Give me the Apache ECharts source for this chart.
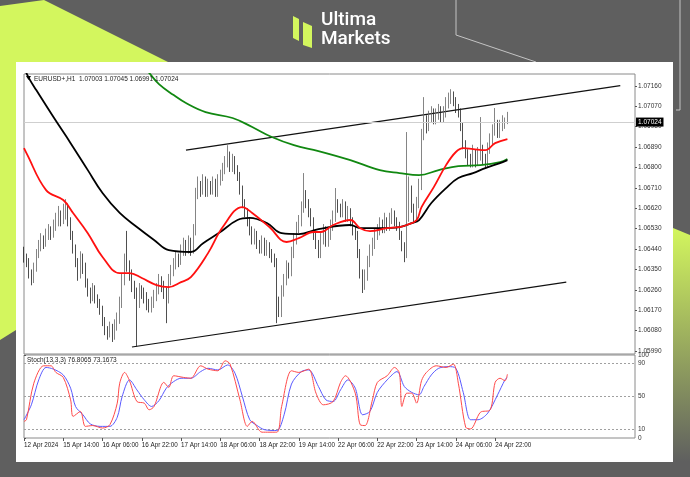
<!DOCTYPE html>
<html><head><meta charset="utf-8">
<script src="https://cdn.jsdelivr.net/npm/echarts@6/dist/echarts.min.js"></script>
<style>html,body{margin:0;padding:0;background:#5f5f5f}#c{width:690px;height:477px}</style>
</head><body><div id="c"></div>
<script>
// ---------- data ----------
const xLabels = ['12 Apr 2024','15 Apr 14:00','16 Apr 06:00','16 Apr 22:00','17 Apr 14:00','18 Apr 06:00','18 Apr 22:00','19 Apr 14:00','22 Apr 06:00','22 Apr 22:00','23 Apr 14:00','24 Apr 06:00','24 Apr 22:00'];
const labelEvery = 16;
const totalSlots = 250;
const priceTicks = [1.05990,1.06080,1.06170,1.06260,1.06350,1.06440,1.06530,1.06620,1.06710,1.06800,1.06890,1.06980,1.07070,1.07160];
const priceMin = 1.05977, priceMax = 1.07212;
const stochTicks = [0,10,50,90,100];
const stochLevels = [90,50,10];
const lastPrice = 1.07024;
const header = 'EURUSD+,H1  1.07003 1.07045 1.06991 1.07024';
const stochHeader = 'Stoch(13,3,3) 76.8065 73.1673';

// H1 bars: [open, high, low, close]
const ohlc = [
[1.06420,1.06450,1.06380,1.06400],[1.06400,1.06420,1.06360,1.06380],[1.06380,1.06400,1.06310,1.06330],[1.06330,1.06350,1.06280,1.06300],
[1.06300,1.06380,1.06290,1.06360],[1.06360,1.06440,1.06340,1.06420],[1.06420,1.06480,1.06400,1.06450],[1.06450,1.06510,1.06430,1.06480],
[1.06480,1.06500,1.06440,1.06470],[1.06470,1.06530,1.06450,1.06500],[1.06500,1.06550,1.06480,1.06520],[1.06520,1.06540,1.06480,1.06510],
[1.06510,1.06570,1.06490,1.06540],[1.06540,1.06600,1.06520,1.06560],[1.06560,1.06630,1.06540,1.06590],[1.06590,1.06610,1.06540,1.06570],
[1.06570,1.06640,1.06550,1.06600],[1.06600,1.06660,1.06570,1.06620],[1.06620,1.06640,1.06540,1.06560],[1.06560,1.06580,1.06480,1.06500],
[1.06500,1.06520,1.06420,1.06440],[1.06440,1.06460,1.06360,1.06380],[1.06380,1.06400,1.06300,1.06330],[1.06330,1.06430,1.06310,1.06400],
[1.06400,1.06420,1.06330,1.06360],[1.06360,1.06380,1.06270,1.06290],[1.06290,1.06310,1.06230,1.06250],[1.06250,1.06270,1.06200,1.06230],
[1.06230,1.06290,1.06210,1.06260],[1.06260,1.06280,1.06200,1.06220],[1.06220,1.06240,1.06180,1.06200],[1.06200,1.06220,1.06150,1.06170],
[1.06170,1.06190,1.06100,1.06120],[1.06120,1.06140,1.06060,1.06080],[1.06080,1.06100,1.06040,1.06060],[1.06060,1.06120,1.06050,1.06090],
[1.06090,1.06110,1.06030,1.06050],[1.06050,1.06130,1.06040,1.06100],[1.06100,1.06160,1.06080,1.06130],[1.06130,1.06230,1.06110,1.06200],
[1.06200,1.06330,1.06180,1.06300],[1.06300,1.06420,1.06280,1.06380],[1.06380,1.06520,1.06340,1.06360],[1.06360,1.06390,1.06300,1.06330],
[1.06330,1.06350,1.06250,1.06280],[1.06280,1.06300,1.06220,1.06250],[1.06250,1.06270,1.06008,1.06200],[1.06200,1.06290,1.06180,1.06260],
[1.06260,1.06280,1.06220,1.06250],[1.06250,1.06270,1.06200,1.06230],[1.06230,1.06250,1.06170,1.06200],[1.06200,1.06220,1.06160,1.06180],
[1.06180,1.06230,1.06160,1.06200],[1.06200,1.06260,1.06180,1.06230],[1.06230,1.06290,1.06210,1.06260],[1.06260,1.06330,1.06240,1.06300],
[1.06300,1.06320,1.06250,1.06280],[1.06280,1.06300,1.06220,1.06250],[1.06250,1.06270,1.06113,1.06220],[1.06220,1.06330,1.06200,1.06300],
[1.06300,1.06370,1.06280,1.06340],[1.06340,1.06400,1.06320,1.06370],[1.06370,1.06430,1.06350,1.06400],[1.06400,1.06420,1.06360,1.06390],
[1.06390,1.06460,1.06370,1.06430],[1.06430,1.06490,1.06410,1.06460],[1.06460,1.06480,1.06410,1.06440],[1.06440,1.06500,1.06420,1.06470],
[1.06470,1.06490,1.06410,1.06430],[1.06430,1.06550,1.06420,1.06520],[1.06520,1.06710,1.06500,1.06680],[1.06680,1.06760,1.06660,1.06720],
[1.06720,1.06740,1.06670,1.06700],[1.06700,1.06770,1.06680,1.06740],[1.06740,1.06760,1.06670,1.06690],[1.06690,1.06750,1.06670,1.06720],
[1.06720,1.06740,1.06680,1.06700],[1.06700,1.06760,1.06680,1.06730],[1.06730,1.06750,1.06670,1.06690],[1.06690,1.06770,1.06670,1.06740],
[1.06740,1.06790,1.06720,1.06760],[1.06760,1.06820,1.06740,1.06790],[1.06790,1.06850,1.06770,1.06820],[1.06820,1.06898,1.06800,1.06850],
[1.06850,1.06870,1.06780,1.06800],[1.06800,1.06860,1.06780,1.06830],[1.06830,1.06850,1.06770,1.06790],[1.06790,1.06810,1.06740,1.06760],
[1.06760,1.06780,1.06680,1.06700],[1.06700,1.06720,1.06620,1.06640],[1.06640,1.06660,1.06580,1.06600],[1.06600,1.06620,1.06540,1.06560],
[1.06560,1.06580,1.06500,1.06520],[1.06520,1.06540,1.06460,1.06480],[1.06480,1.06530,1.06460,1.06500],[1.06500,1.06520,1.06440,1.06460],
[1.06460,1.06480,1.06420,1.06440],[1.06440,1.06500,1.06420,1.06470],[1.06470,1.06490,1.06410,1.06430],[1.06430,1.06480,1.06410,1.06450],
[1.06450,1.06470,1.06400,1.06420],[1.06420,1.06440,1.06380,1.06400],[1.06400,1.06420,1.06360,1.06380],[1.06380,1.06400,1.06113,1.06200],
[1.06200,1.06230,1.06140,1.06160],[1.06160,1.06280,1.06140,1.06250],[1.06250,1.06330,1.06230,1.06300],[1.06300,1.06390,1.06280,1.06360],
[1.06360,1.06380,1.06310,1.06340],[1.06340,1.06450,1.06320,1.06420],[1.06420,1.06510,1.06400,1.06480],[1.06480,1.06560,1.06460,1.06530],
[1.06530,1.06590,1.06510,1.06560],[1.06560,1.06650,1.06540,1.06620],[1.06620,1.06775,1.06600,1.06680],[1.06680,1.06700,1.06620,1.06640],
[1.06640,1.06660,1.06580,1.06600],[1.06600,1.06620,1.06540,1.06560],[1.06560,1.06580,1.06480,1.06500],[1.06500,1.06520,1.06440,1.06460],
[1.06460,1.06480,1.06400,1.06420],[1.06420,1.06510,1.06400,1.06480],[1.06480,1.06550,1.06460,1.06520],[1.06520,1.06540,1.06450,1.06470],
[1.06470,1.06530,1.06450,1.06500],[1.06500,1.06570,1.06480,1.06540],[1.06540,1.06610,1.06520,1.06580],[1.06580,1.06709,1.06560,1.06640],
[1.06640,1.06660,1.06600,1.06620],[1.06620,1.06640,1.06580,1.06600],[1.06600,1.06660,1.06580,1.06630],[1.06630,1.06650,1.06560,1.06580],
[1.06580,1.06630,1.06560,1.06600],[1.06600,1.06620,1.06540,1.06560],[1.06560,1.06580,1.06500,1.06520],[1.06520,1.06540,1.06480,1.06500],
[1.06500,1.06520,1.06400,1.06420],[1.06420,1.06440,1.06310,1.06330],[1.06330,1.06350,1.06246,1.06280],[1.06280,1.06350,1.06260,1.06320],
[1.06320,1.06410,1.06300,1.06380],[1.06380,1.06460,1.06360,1.06430],[1.06430,1.06490,1.06410,1.06460],[1.06460,1.06530,1.06440,1.06500],
[1.06500,1.06550,1.06480,1.06520],[1.06520,1.06580,1.06500,1.06550],[1.06550,1.06570,1.06510,1.06530],[1.06530,1.06600,1.06510,1.06560],
[1.06560,1.06580,1.06520,1.06540],[1.06540,1.06600,1.06520,1.06570],[1.06570,1.06620,1.06550,1.06590],[1.06590,1.06610,1.06540,1.06560],
[1.06560,1.06580,1.06520,1.06540],[1.06540,1.06560,1.06480,1.06500],[1.06500,1.06520,1.06430,1.06450],[1.06450,1.06470,1.06382,1.06420],
[1.06420,1.06956,1.06400,1.06580],[1.06580,1.06760,1.06560,1.06700],[1.06700,1.06720,1.06600,1.06620],[1.06620,1.06640,1.06560,1.06580],
[1.06580,1.06670,1.06560,1.06640],[1.06640,1.06750,1.06620,1.06720],[1.06720,1.06970,1.06700,1.06940],[1.06940,1.07110,1.06920,1.07000],
[1.07000,1.07030,1.06950,1.06980],[1.06980,1.07050,1.06960,1.07020],[1.07020,1.07070,1.07000,1.07040],[1.07040,1.07060,1.06990,1.07010],
[1.07010,1.07060,1.06990,1.07030],[1.07030,1.07080,1.07010,1.07050],[1.07050,1.07070,1.07000,1.07020],[1.07020,1.07070,1.07000,1.07040],
[1.07040,1.07110,1.07020,1.07080],[1.07080,1.07130,1.07060,1.07100],[1.07100,1.07145,1.07080,1.07120],[1.07120,1.07135,1.07070,1.07090],
[1.07090,1.07110,1.07040,1.07060],[1.07060,1.07080,1.07020,1.07040],[1.07040,1.07060,1.06960,1.06980],[1.06980,1.07000,1.06880,1.06900],
[1.06900,1.06920,1.06840,1.06860],[1.06860,1.06880,1.06810,1.06840],[1.06840,1.06860,1.06800,1.06820],[1.06820,1.06900,1.06800,1.06860],
[1.06860,1.06880,1.06800,1.06830],[1.06830,1.06890,1.06810,1.06850],[1.06850,1.07022,1.06830,1.06880],[1.06880,1.06900,1.06810,1.06840],
[1.06840,1.06860,1.06800,1.06820],[1.06820,1.06910,1.06800,1.06880],[1.06880,1.06950,1.06860,1.06920],[1.06920,1.06990,1.06900,1.06960],
[1.06960,1.07062,1.06940,1.06990],[1.06990,1.07010,1.06930,1.06950],[1.06950,1.07010,1.06930,1.06980],[1.06980,1.07030,1.06960,1.07000],
[1.07000,1.07020,1.06970,1.07003],[1.07003,1.07045,1.06991,1.07024]
];

// moving averages: [bar index, price]
const redMA = [[0,1.06885],[1,1.06863],[9,1.06700],[16,1.06656],[20,1.06599],[26,1.06510],[32,1.06405],[39,1.06334],[43,1.06334],[48,1.06312],[54,1.06281],[59,1.06272],[64,1.06294],[68,1.06316],[75,1.06422],[81,1.06537],[89,1.06625],[93,1.06599],[100,1.06537],[107,1.06471],[112,1.06488],[118,1.06515],[121,1.06515],[126,1.06546],[133,1.06568],[137,1.06532],[141,1.06519],[148,1.06532],[153,1.06537],[156,1.06546],[160,1.06568],[162,1.06625],[167,1.06713],[172,1.06810],[176,1.06868],[179,1.06885],[183,1.06881],[188,1.06876],[192,1.06907],[197,1.06925]];
const blackMA = [[0,1.07240],[2,1.07194],[5,1.07141],[12,1.07022],[19,1.06907],[26,1.06788],[32,1.06687],[39,1.06599],[46,1.06537],[53,1.06480],[59,1.06435],[68,1.06427],[73,1.06466],[80,1.06515],[87,1.06568],[92,1.06577],[99,1.06554],[105,1.06510],[112,1.06506],[120,1.06528],[133,1.06546],[137,1.06532],[145,1.06532],[153,1.06537],[158,1.06554],[161,1.06568],[166,1.06643],[172,1.06709],[177,1.06753],[183,1.06775],[188,1.06797],[194,1.06819],[197,1.06832]];
const greenMA = [[46,1.07270],[50,1.07229],[55,1.07167],[61,1.07119],[66,1.07084],[74,1.07044],[85,1.07018],[93,1.06978],[101,1.06934],[110,1.06898],[120,1.06872],[133,1.06832],[145,1.06788],[153,1.06775],[161,1.06766],[169,1.06788],[177,1.06806],[186,1.06810],[194,1.06823],[197,1.06837]];
const upperTrend = [[66,1.06876],[243,1.07161]];
const lowerTrend = [[44,1.06008],[221,1.06294]];

// stochastic: [bar index, value]
const stochMain = [[0,20],[1,22],[4,66],[8,87],[11,87],[13,79],[16,73],[19,46],[20,26],[23,32],[25,14],[28,15],[32,12],[35,16],[38,42],[39,66],[41,79],[43,69],[46,44],[49,42],[51,34],[53,38],[57,67],[59,61],[61,75],[65,73],[68,72],[72,87],[75,83],[79,81],[82,93],[84,89],[88,46],[91,14],[93,20],[97,7],[103,7],[105,38],[109,81],[112,79],[116,83],[119,54],[122,40],[126,44],[129,67],[131,75],[135,54],[137,16],[139,15],[142,46],[144,67],[148,75],[151,85],[153,78],[154,38],[156,54],[158,54],[160,42],[162,69],[164,79],[168,87],[172,85],[175,89],[177,66],[180,13],[182,11],[186,31],[190,34],[192,67],[194,72],[196,69],[197,76.8]];
const stochSignal = [[0,22],[3,40],[6,70],[9,85],[12,83],[16,76],[19,60],[21,38],[24,28],[27,17],[31,14],[35,14],[38,25],[40,50],[43,70],[46,58],[49,46],[52,38],[55,45],[58,60],[61,68],[64,72],[68,72],[72,80],[75,84],[79,82],[83,88],[86,78],[89,50],[92,22],[95,15],[98,10],[103,9],[106,28],[109,65],[113,80],[116,82],[120,62],[123,46],[126,44],[129,58],[132,70],[135,60],[138,28],[141,32],[144,55],[148,70],[152,80],[155,62],[158,55],[161,52],[163,62],[166,76],[169,84],[173,86],[176,84],[179,55],[182,22],[185,22],[189,30],[193,52],[196,70],[197,73.2]];

// ---------- chart ----------
const cats = Array.from({length: totalSlots}, (_, i) => String(i));
const candleData = ohlc.map(r => [r[0], r[3], r[2], r[1]]);
const xTickIdx = xLabels.map((_, k) => k * labelEvery);
const FONT = 'Liberation Sans, Arial, sans-serif';
const LIME = '#d3f65e';

const chart = echarts.init(document.getElementById('c'), null, {renderer: 'canvas'});
const option = {
  backgroundColor: '#5f5f5f',
  animation: false,
  grid: [
    {left: 24, top: 74, width: 611, height: 280, show: true, borderColor: '#8a8a8a', borderWidth: 1, backgroundColor: '#fff'},
    {left: 24, top: 355, width: 611, height: 83, show: true, borderColor: '#8a8a8a', borderWidth: 1, backgroundColor: '#fff'}
  ],
  xAxis: [
    {type: 'category', gridIndex: 0, data: cats, boundaryGap: false, axisLine: {show: false}, axisTick: {show: false}, axisLabel: {show: false}, splitLine: {show: false}},
    {type: 'value', gridIndex: 1, min: 0, max: totalSlots - 1, axisLine: {show: false},
      axisTick: {show: true, length: 3, customValues: xTickIdx, lineStyle: {color: '#555'}},
      axisLabel: {show: true, customValues: xTickIdx, hideOverlap: false,
        formatter: (v) => xLabels[Math.round(v / labelEvery)] || '', align: 'left', fontSize: 6.3, color: '#222', fontFamily: FONT, margin: 4},
      splitLine: {show: false}}
  ],
  yAxis: [
    {type: 'value', gridIndex: 0, position: 'right', min: priceMin, max: priceMax, axisLine: {show: false},
      axisTick: {show: true, customValues: priceTicks, length: 2, lineStyle: {color: '#555'}},
      axisLabel: {customValues: priceTicks, formatter: v => v.toFixed(5), fontSize: 6.5, color: '#333', fontFamily: FONT, margin: 3},
      splitLine: {show: false}},
    {type: 'value', gridIndex: 1, position: 'right', min: 0, max: 100, axisLine: {show: false},
      axisTick: {show: true, customValues: stochTicks, length: 2, lineStyle: {color: '#555'}},
      axisLabel: {customValues: stochTicks, fontSize: 6.5, color: '#333', fontFamily: FONT, margin: 3, hideOverlap: false},
      splitLine: {show: false}}
  ],
  series: [
    {type: 'line', xAxisIndex: 0, yAxisIndex: 0, data: upperTrend, symbol: 'none', lineStyle: {color: '#111', width: 1.2}, z: 3},
    {type: 'line', xAxisIndex: 0, yAxisIndex: 0, data: lowerTrend, symbol: 'none', lineStyle: {color: '#111', width: 1.2}, z: 3},
    {type: 'candlestick', xAxisIndex: 0, yAxisIndex: 0, data: candleData, barMaxWidth: 2,
      itemStyle: {color: '#ffffff', color0: '#222', borderColor: '#666', borderColor0: '#222', borderWidth: 0.8},
      markLine: {silent: true, symbol: 'none', data: [{yAxis: lastPrice}],
        lineStyle: {color: '#cfcfcf', width: 1, type: 'solid'},
        label: {show: true, position: 'end', formatter: () => lastPrice.toFixed(5), backgroundColor: '#000', color: '#fff', fontSize: 6.5, fontFamily: FONT, padding: [1, 2], distance: 1}},
      z: 4},
    {type: 'line', xAxisIndex: 0, yAxisIndex: 0, data: greenMA, symbol: 'none', smooth: 0.4, lineStyle: {color: '#118811', width: 1.8}, z: 5},
    {type: 'line', xAxisIndex: 0, yAxisIndex: 0, data: blackMA, symbol: 'none', smooth: 0.4, lineStyle: {color: '#000', width: 1.8}, z: 5},
    {type: 'line', xAxisIndex: 0, yAxisIndex: 0, data: redMA, symbol: 'none', smooth: 0.4, lineStyle: {color: '#ff1010', width: 1.8}, z: 6},
    {type: 'line', xAxisIndex: 1, yAxisIndex: 1, data: stochSignal, symbol: 'none', smooth: 0.3, lineStyle: {color: '#5a5aff', width: 1}, z: 5,
      markLine: {silent: true, symbol: 'none', data: stochLevels.map(v => ({yAxis: v})), label: {show: false},
        lineStyle: {color: '#a0a0a0', width: 1, type: [2, 2]}}},
    {type: 'line', xAxisIndex: 1, yAxisIndex: 1, data: stochMain, symbol: 'none', smooth: 0.3, lineStyle: {color: '#ff4a4a', width: 1}, z: 6}
  ],
  graphic: [
    {type: 'polygon', z: -30, shape: {points: [[0,6],[44,0],[168,62],[16,62],[16,330],[0,340]]}, style: {fill: LIME}},
    {type: 'polygon', z: -30, shape: {points: [[673,228],[690,235],[690,462],[673,462]]},
      style: {fill: new echarts.graphic.LinearGradient(0, 0, 0, 1, [{offset: 0, color: LIME}, {offset: 1, color: '#5f5f5f'}])}},
    {type: 'rect', z: -20, shape: {x: 16, y: 62, width: 657, height: 400}, style: {fill: '#fff'}},
    {type: 'polyline', z: -25, shape: {points: [[456,0],[456,35],[536,62]]}, style: {stroke: '#c4c4c4', lineWidth: 1, fill: null}},
    {type: 'polyline', z: -25, shape: {points: [[680,0],[680,110],[676,110]]}, style: {stroke: '#c4c4c4', lineWidth: 1, fill: null}},
    {type: 'polygon', z: 20, shape: {points: [[293,16],[299,19],[299,41],[293,38]]}, style: {fill: LIME}},
    {type: 'polygon', z: 20, shape: {points: [[303,22],[312,26],[312,48],[303,45]]}, style: {fill: LIME}},
    {type: 'text', z: 20, x: 321, y: 11, style: {text: 'Ultima', fill: '#fff', font: '500 19px Roboto, Inter, sans-serif'}},
    {type: 'text', z: 20, x: 321, y: 30, style: {text: 'Markets', fill: '#fff', font: '500 19px Roboto, Inter, sans-serif'}},
    {type: 'polygon', z: 20, shape: {points: [[26,76],[31,76],[28.5,80]]}, style: {fill: '#000'}},
    {type: 'text', z: 20, x: 34, y: 76, style: {text: header, fill: '#222', font: '6.5px ' + FONT}},
    {type: 'text', z: 20, x: 27, y: 357, style: {text: stochHeader, fill: '#222', font: '6.5px ' + FONT}}
  ]
};
chart.setOption(option);
</script>
</body></html>
